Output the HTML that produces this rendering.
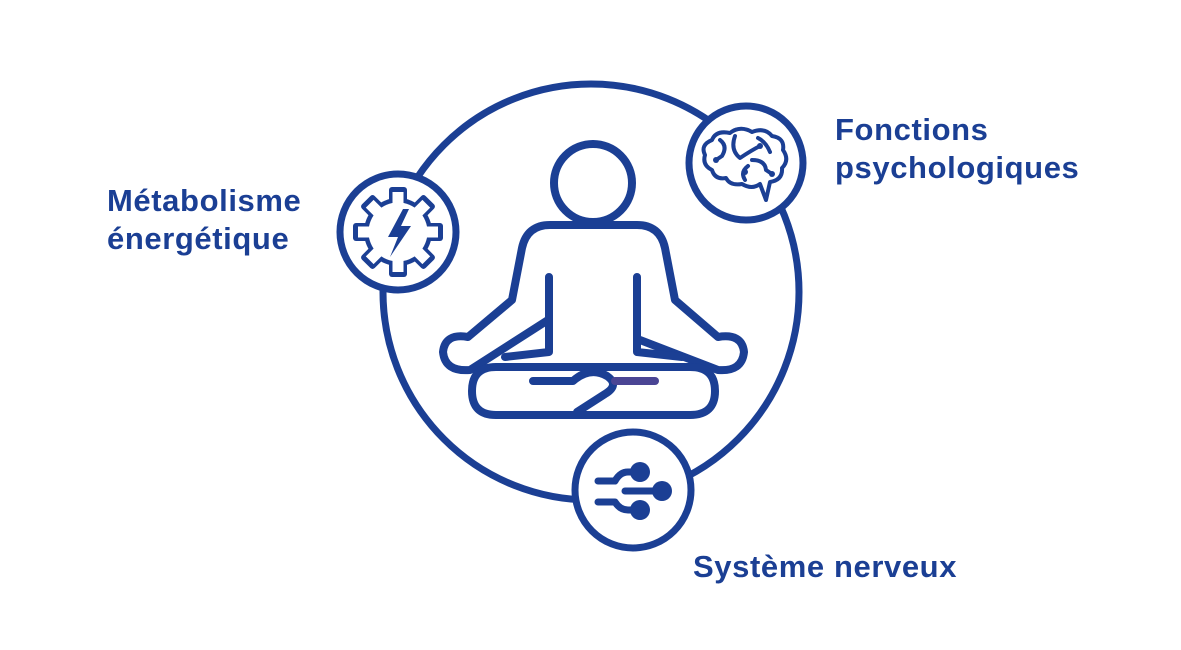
<!DOCTYPE html>
<html><head><meta charset="utf-8"><style>
html,body{margin:0;padding:0;background:#fff;}
body{width:1181px;height:650px;overflow:hidden;position:relative;font-family:"Liberation Sans",sans-serif;}
.t{position:absolute;color:#1b3f94;font-weight:bold;font-size:31px;line-height:38px;letter-spacing:0.6px;}
</style></head><body>
<svg width="1181" height="650" style="position:absolute;left:0;top:0">
<g fill="none" stroke="#1b3f94" stroke-linecap="round" stroke-linejoin="round">
<circle cx="591" cy="292" r="208" stroke-width="7"/>
<circle cx="593" cy="183" r="39" stroke-width="8"/>
<path d="M512,300 L522,248 Q527,225 550,225 L637,225 Q660,225 665,248 L675,300 L718,337 Q742,333 744,352 Q742,372 718,370 L640,340 M512,300 L468,337 Q445,333 443,352 Q445,372 470,370 L548,320" stroke-width="8"/>
<path d="M549,277 L549,352 L505,357 M637,277 L637,352 L682,357" stroke-width="8"/>
<path d="M496,367 L690,367 Q715,367 715,391 Q715,415 690,415 L496,415 Q472,415 472,391 Q472,367 496,367 Z" stroke-width="8"/>
<path d="M533,381 L573,381 Q590,366 607,376 Q620,385 605,394 L577,412" stroke-width="8"/>
<path d="M615,381 L655,381" stroke="#4a4594" stroke-width="8"/>
<circle cx="398" cy="232" r="58" fill="#fff" stroke-width="7"/>
<circle cx="746" cy="163" r="57" fill="#fff" stroke-width="7"/>
<circle cx="633" cy="490" r="58" fill="#fff" stroke-width="7"/>
</g>
<g transform="translate(398,232)">
<g fill="#1b3f94">
<circle r="34"/>
<rect x="-9" y="-45" width="18" height="20" rx="3"/>
<rect x="-9" y="-45" width="18" height="20" rx="3" transform="rotate(45)"/>
<rect x="-9" y="-45" width="18" height="20" rx="3" transform="rotate(90)"/>
<rect x="-9" y="-45" width="18" height="20" rx="3" transform="rotate(135)"/>
<rect x="-9" y="-45" width="18" height="20" rx="3" transform="rotate(180)"/>
<rect x="-9" y="-45" width="18" height="20" rx="3" transform="rotate(225)"/>
<rect x="-9" y="-45" width="18" height="20" rx="3" transform="rotate(270)"/>
<rect x="-9" y="-45" width="18" height="20" rx="3" transform="rotate(315)"/>
</g>
<g fill="#fff">
<circle r="29.5"/>
<rect x="-5.5" y="-40" width="11" height="15"/>
<rect x="-5.5" y="-40" width="11" height="15" transform="rotate(45)"/>
<rect x="-5.5" y="-40" width="11" height="15" transform="rotate(90)"/>
<rect x="-5.5" y="-40" width="11" height="15" transform="rotate(135)"/>
<rect x="-5.5" y="-40" width="11" height="15" transform="rotate(180)"/>
<rect x="-5.5" y="-40" width="11" height="15" transform="rotate(225)"/>
<rect x="-5.5" y="-40" width="11" height="15" transform="rotate(270)"/>
<rect x="-5.5" y="-40" width="11" height="15" transform="rotate(315)"/>
</g>
</g>
<polygon points="403,209 388,237 398,237 390,257 411,226 401,226 409,209" fill="#1b3f94"/>
<g fill="none" stroke="#1b3f94" stroke-width="4" stroke-linecap="round" stroke-linejoin="round">
<path d="M712,170 Q702,165 705,155 Q700,145 712,140 Q716,130 730,133 Q740,125 752,132 Q765,127 772,136 Q785,138 783,150 Q790,160 782,168 Q783,180 770,182 L766,200 L760,184 Q752,190 742,184 Q730,186 726,178 Q715,180 712,170 Z"/>
<path d="M720,140 Q728,146 722,156 L716,160 M735,136 Q730,150 740,158 Q752,150 760,146 M748,166 Q740,172 745,180 M752,160 Q765,160 766,170 L772,174 M758,138 Q766,142 770,152"/>
</g>
<g fill="#1b3f94"><circle cx="716" cy="160" r="3"/><circle cx="760" cy="146" r="3"/><circle cx="745" cy="172" r="3"/><circle cx="772" cy="174" r="3"/></g>
<g fill="none" stroke="#1b3f94" stroke-width="7" stroke-linecap="round" stroke-linejoin="round">
<path d="M598,481 L615,481 Q620,472 628,472 L640,472"/>
<path d="M625,491 L662,491"/>
<path d="M598,502 L615,502 Q620,510 628,510 L640,510"/>
</g>
<g fill="#1b3f94"><circle cx="640" cy="472" r="10"/><circle cx="662" cy="491" r="10"/><circle cx="640" cy="510" r="10"/></g>
</svg>
<div class="t" style="left:107px;top:182px;">Métabolisme<br>énergétique</div>
<div class="t" style="left:835px;top:111px;">Fonctions<br>psychologiques</div>
<div class="t" style="left:693px;top:548px;">Système nerveux</div>
</body></html>
